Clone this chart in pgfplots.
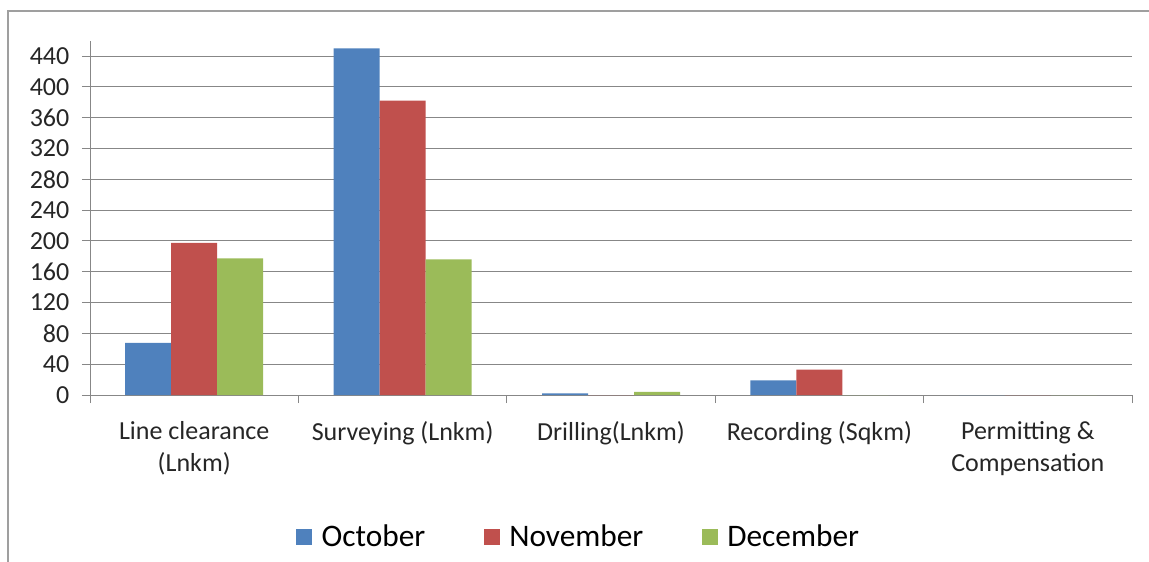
\documentclass[border=0pt]{standalone}
\usepackage{pgfplots}
\pgfplotsset{compat=1.18}
\usepackage{fontspec}
\setmainfont{Carlito}
\definecolor{cOct}{HTML}{4F81BD}
\definecolor{cNov}{HTML}{C0504D}
\definecolor{cDec}{HTML}{9BBB59}
\definecolor{axgray}{HTML}{878787}
\begin{document}
\begin{tikzpicture}
\useasboundingbox (0,0) rectangle (861.75pt,420.75pt);
\draw[line width=1.5pt, color=gray!75] (6pt,-10pt) -- (6pt,412.5pt) -- (880pt,412.5pt);
\begin{axis}[
  at={(67.5pt,124.5pt)}, anchor=south west,
  scale only axis,
  width=781.5pt, height=265.8pt,
  ybar=0pt, bar width=34.5pt,
  xmin=-0.5, xmax=4.5, ymin=0, ymax=460,
  axis lines*=left,
  axis line style={color=axgray, line width=0.75pt},
  xtick={0,1,2,3,4},
  xticklabels={{Line clearance\\(Lnkm)},{Surveying (Lnkm)},{Drilling(Lnkm)},{Recording (Sqkm)},{Permitting \&\\Compensation}},
  minor xtick={-0.5,0.5,1.5,2.5,3.5,4.5},
  major x tick style={draw=none},
  minor x tick style={color=axgray, line width=0.75pt},
  ytick={0,40,...,440},
  ytick style={color=axgray, line width=0.75pt},
  tick align=outside,
  major tick length=6pt, minor tick length=6pt,
  ymajorgrids,
  grid style={color=axgray, line width=0.75pt},
  /pgf/number format/assume math mode=true,
  tick label style={font=\fontsize{19.5}{24}\selectfont, color=black!85},
  xticklabel style={align=center, yshift=-10pt},
  yticklabel style={xshift=-6pt},
  legend columns=3,
  legend style={at={(0.1977,-0.40)}, anchor=west, draw=none, fill=none,
    font=\fontsize{23.5}{28}\selectfont, inner sep=0pt,
    nodes={inner sep=0pt},
    /tikz/every odd column/.append style={column sep=7pt},
    /tikz/every even column/.append style={column sep=44pt}},
  legend image code/.code={\fill[#1] (0pt,-6pt) rectangle (12pt,6pt);},
]
\addplot[fill=cOct, draw=none] coordinates {(0,67.5) (1,450) (2,2) (3,19) (4,0)};
\addplot[fill=cNov, draw=none] coordinates {(0,197.5) (1,382) (2,0) (3,33) (4,0)};
\addplot[fill=cDec, draw=none] coordinates {(0,177.5) (1,176) (2,4) (3,0) (4,0)};
\legend{October,November,December}
\end{axis}
\end{tikzpicture}
\end{document}
